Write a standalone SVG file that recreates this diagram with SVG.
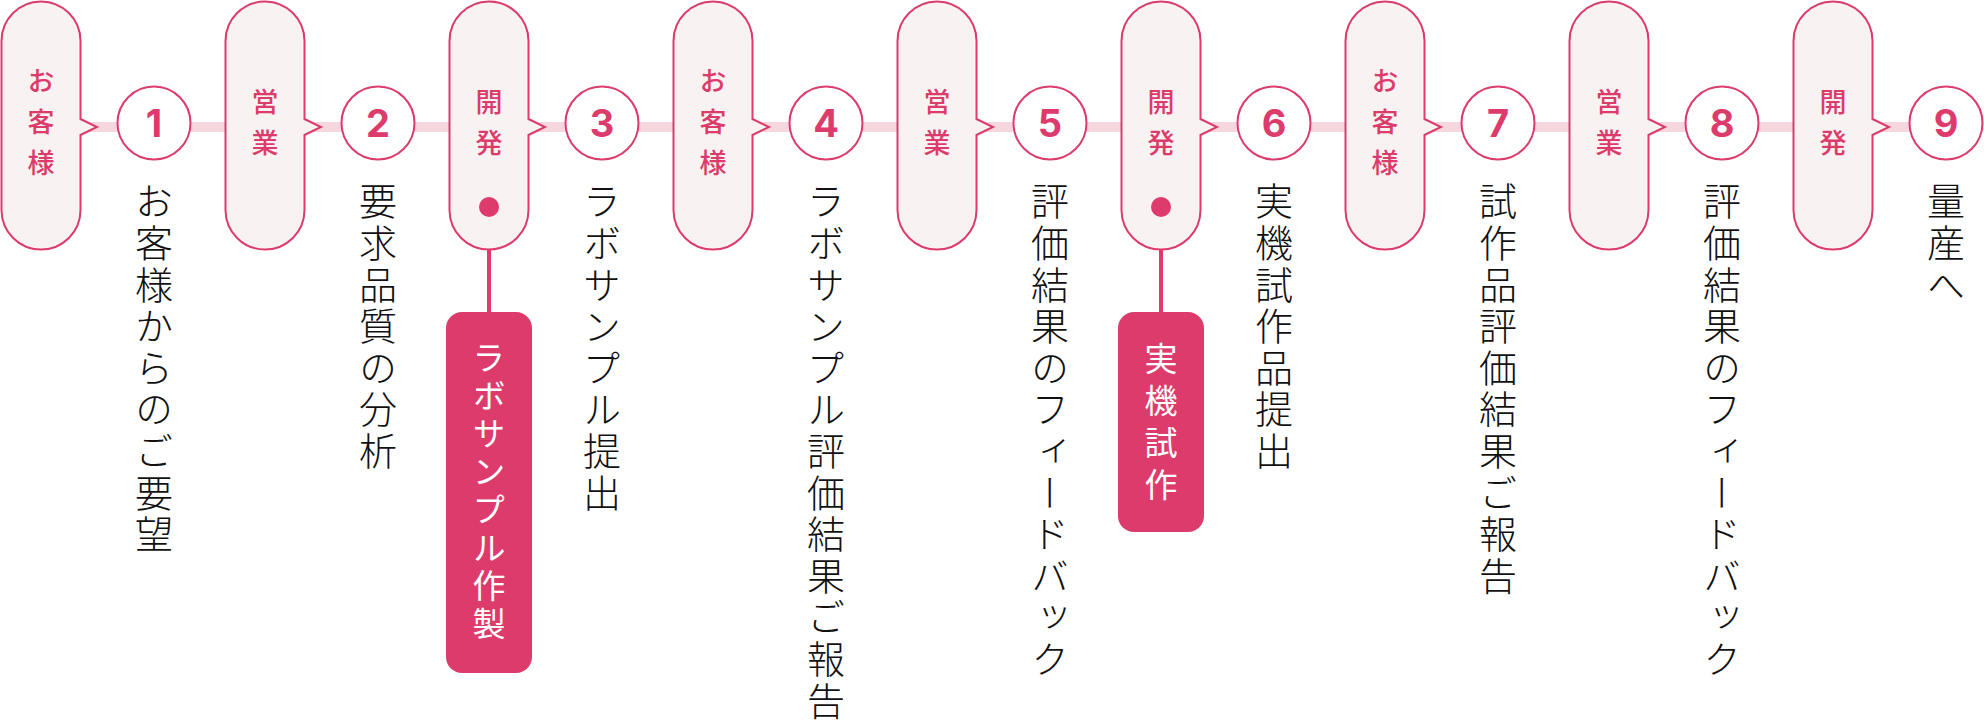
<svg xmlns="http://www.w3.org/2000/svg" width="1984" height="725" viewBox="0 0 1984 725">
<defs>
<style>
.pill{fill:#f9f2f3;stroke:#dc3b6b;stroke-width:2}
.circ{fill:#ffffff;stroke:#dc3b6b;stroke-width:2}
.pt{font-family:"Noto Sans CJK JP","Noto Sans",sans-serif;font-size:27px;font-weight:500;fill:#dc3b6b;writing-mode:vertical-rl;letter-spacing:14px}
.num{font-family:Inter,"Noto Sans",sans-serif;font-size:38px;font-weight:700;fill:#dc3b6b;text-anchor:middle}
.desc{font-family:"Noto Sans CJK JP","Noto Sans",sans-serif;font-size:38px;font-weight:300;fill:#111111;writing-mode:vertical-rl;letter-spacing:3.6px}
.box{fill:#dc3b6b}
.bt{font-family:"Noto Sans CJK JP","Noto Sans",sans-serif;font-size:33px;font-weight:400;fill:#ffffff;writing-mode:vertical-rl}
.dot{fill:#dc3b6b}
</style>
</defs>
<rect width="1984" height="725" fill="#ffffff"/>
<g id="connectors">
<line x1="81" y1="127" x2="1946" y2="127" stroke="#f5d7dd" stroke-width="10"/>
<line x1="489" y1="207" x2="489" y2="313" stroke="#dc3b6b" stroke-width="4"/>
<line x1="1161" y1="207" x2="1161" y2="313" stroke="#dc3b6b" stroke-width="4"/>
</g>
<g id="pill1"><path class="pill" d="M41,1.5 A39.5,39.5 0 0 1 80.5,41 V119 L97,127 L80.5,135 V210 A39.5,39.5 0 0 1 41,249.5 A39.5,39.5 0 0 1 1.5,210 V41 A39.5,39.5 0 0 1 41,1.5 Z"/><text class="pt" x="41" y="67">お客様</text></g>
<g id="pill2"><path class="pill" d="M265,1.5 A39.5,39.5 0 0 1 304.5,41 V119 L321,127 L304.5,135 V210 A39.5,39.5 0 0 1 265,249.5 A39.5,39.5 0 0 1 225.5,210 V41 A39.5,39.5 0 0 1 265,1.5 Z"/><text class="pt" x="265" y="88">営業</text></g>
<g id="pill3"><path class="pill" d="M489,1.5 A39.5,39.5 0 0 1 528.5,41 V119 L545,127 L528.5,135 V210 A39.5,39.5 0 0 1 489,249.5 A39.5,39.5 0 0 1 449.5,210 V41 A39.5,39.5 0 0 1 489,1.5 Z"/><text class="pt" x="489" y="88">開発</text><circle class="dot" cx="489" cy="207" r="10"/></g>
<g id="pill4"><path class="pill" d="M713,1.5 A39.5,39.5 0 0 1 752.5,41 V119 L769,127 L752.5,135 V210 A39.5,39.5 0 0 1 713,249.5 A39.5,39.5 0 0 1 673.5,210 V41 A39.5,39.5 0 0 1 713,1.5 Z"/><text class="pt" x="713" y="67">お客様</text></g>
<g id="pill5"><path class="pill" d="M937,1.5 A39.5,39.5 0 0 1 976.5,41 V119 L993,127 L976.5,135 V210 A39.5,39.5 0 0 1 937,249.5 A39.5,39.5 0 0 1 897.5,210 V41 A39.5,39.5 0 0 1 937,1.5 Z"/><text class="pt" x="937" y="88">営業</text></g>
<g id="pill6"><path class="pill" d="M1161,1.5 A39.5,39.5 0 0 1 1200.5,41 V119 L1217,127 L1200.5,135 V210 A39.5,39.5 0 0 1 1161,249.5 A39.5,39.5 0 0 1 1121.5,210 V41 A39.5,39.5 0 0 1 1161,1.5 Z"/><text class="pt" x="1161" y="88">開発</text><circle class="dot" cx="1161" cy="207" r="10"/></g>
<g id="pill7"><path class="pill" d="M1385,1.5 A39.5,39.5 0 0 1 1424.5,41 V119 L1441,127 L1424.5,135 V210 A39.5,39.5 0 0 1 1385,249.5 A39.5,39.5 0 0 1 1345.5,210 V41 A39.5,39.5 0 0 1 1385,1.5 Z"/><text class="pt" x="1385" y="67">お客様</text></g>
<g id="pill8"><path class="pill" d="M1609,1.5 A39.5,39.5 0 0 1 1648.5,41 V119 L1665,127 L1648.5,135 V210 A39.5,39.5 0 0 1 1609,249.5 A39.5,39.5 0 0 1 1569.5,210 V41 A39.5,39.5 0 0 1 1609,1.5 Z"/><text class="pt" x="1609" y="88">営業</text></g>
<g id="pill9"><path class="pill" d="M1833,1.5 A39.5,39.5 0 0 1 1872.5,41 V119 L1889,127 L1872.5,135 V210 A39.5,39.5 0 0 1 1833,249.5 A39.5,39.5 0 0 1 1793.5,210 V41 A39.5,39.5 0 0 1 1833,1.5 Z"/><text class="pt" x="1833" y="88">開発</text></g>
<g id="step1"><circle class="circ" cx="154" cy="123" r="36.5"/><text class="num" x="154" y="137">1</text><text class="desc" x="154" y="182">お客様からのご要望</text></g>
<g id="step2"><circle class="circ" cx="378" cy="123" r="36.5"/><text class="num" x="378" y="137">2</text><text class="desc" x="378" y="182">要求品質の分析</text></g>
<g id="step3"><circle class="circ" cx="602" cy="123" r="36.5"/><text class="num" x="602" y="137">3</text><text class="desc" x="602" y="182">ラボサンプル提出</text></g>
<g id="step4"><circle class="circ" cx="826" cy="123" r="36.5"/><text class="num" x="826" y="137">4</text><text class="desc" x="826" y="182">ラボサンプル評価結果ご報告</text></g>
<g id="step5"><circle class="circ" cx="1050" cy="123" r="36.5"/><text class="num" x="1050" y="137">5</text><text class="desc" x="1050" y="182">評価結果のフィードバック</text></g>
<g id="step6"><circle class="circ" cx="1274" cy="123" r="36.5"/><text class="num" x="1274" y="137">6</text><text class="desc" x="1274" y="182">実機試作品提出</text></g>
<g id="step7"><circle class="circ" cx="1498" cy="123" r="36.5"/><text class="num" x="1498" y="137">7</text><text class="desc" x="1498" y="182">試作品評価結果ご報告</text></g>
<g id="step8"><circle class="circ" cx="1722" cy="123" r="36.5"/><text class="num" x="1722" y="137">8</text><text class="desc" x="1722" y="182">評価結果のフィードバック</text></g>
<g id="step9"><circle class="circ" cx="1946" cy="123" r="36.5"/><text class="num" x="1946" y="137">9</text><text class="desc" x="1946" y="182">量産へ</text></g>
<g id="box1"><rect class="box" x="446" y="312" width="86" height="361" rx="16"/><text class="bt" x="489" y="341" style="letter-spacing:5px">ラボサンプル作製</text></g>
<g id="box2"><rect class="box" x="1118" y="312" width="86" height="220" rx="16"/><text class="bt" x="1161" y="342" style="letter-spacing:9px">実機試作</text></g>
</svg>
